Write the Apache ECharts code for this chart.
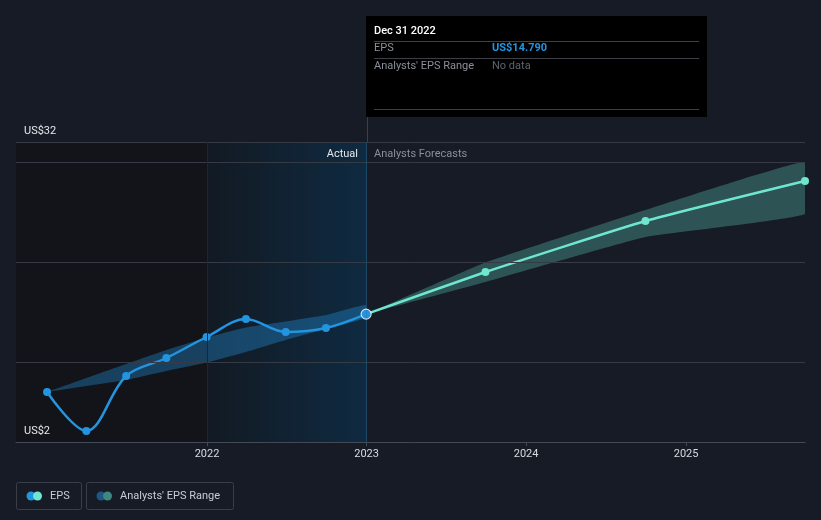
<!DOCTYPE html>
<html>
<head>
<meta charset="utf-8">
<script src="https://cdn.jsdelivr.net/npm/echarts@6/dist/echarts.min.js"></script>
<style>
  html, body { margin: 0; padding: 0; background: #161b26; }
  #chart { width: 821px; height: 520px; }
</style>
</head>
<body>
<div id="chart"></div>
<script>
// ---- data ----
const actualDates = ['2020-12-31','2021-03-31','2021-06-30','2021-09-30','2021-12-31','2022-03-31','2022-06-30','2022-09-30','2022-12-31'];
const actualEps   = [7.0, 3.1, 8.6, 10.4, 12.5, 14.3, 13.0, 13.4, 14.79];
const actualLow   = [7.0, 7.6, 8.2, 9.1, 9.95, 11.0, 12.2, 13.3, 14.45];
const actualHigh  = [7.0, 8.4, 9.8, 11.2, 12.45, 13.45, 14.05, 14.7, 15.7];
const forecastDates = ['2022-12-31','2023-09-30','2024-09-30','2025-09-30'];
const forecastEps   = [14.79, 19.0, 24.1, 28.1];
const forecastLow   = [14.79, 18.0, 22.5, 24.8];
const forecastHigh  = [14.79, 19.95, 25.2, 30.0];
const yearTicks = ['2022-01-01','2023-01-01','2024-01-01','2025-01-01'];
const gridValues = [10, 20, 30, 32];
const yLabelValues = [2, 32];
const axisMin = '2020-10-21';
const axisMax = '2025-09-30';
const nowDate = '2023-01-01';
const pastStart = '2022-01-01';

const t = d => new Date(d + 'T00:00:00Z').getTime();
const pairs = (ds, vs) => ds.map((d, i) => [t(d), vs[i]]);
const triples = (ds, lo, hi) => ds.map((d, i) => [t(d), lo[i], hi[i]]);

const chart = echarts.init(document.getElementById('chart'), null, { renderer: 'canvas' });
const FONT = 'Roboto, "Noto Sans", sans-serif';
const GRID_COL = '#353a45';

function bandRenderer(color, smooth) {
  return function (params, api) {
    if (params.dataIndexInside !== 0) return;
    const n = params.dataInsideLength;
    const upper = [], lower = [];
    for (let i = 0; i < n; i++) {
      upper.push(api.coord([api.value(0, i), api.value(2, i)]));
      lower.push(api.coord([api.value(0, i), api.value(1, i)]));
    }
    const pts = upper.concat(lower.reverse());
    return {
      type: 'polygon',
      shape: { points: pts, smooth: smooth },
      style: { fill: color },
      silent: true
    };
  };
}

const option = {
  backgroundColor: '#161b26',
  animation: false,
  grid: { left: 16, right: 16, top: 142, bottom: 78 },
  xAxis: {
    type: 'value',
    min: t(axisMin),
    max: t(axisMax),
    z: 10,
    axisLine: { show: true, lineStyle: { color: '#444955', width: 1 } },
    axisTick: { show: true, customValues: yearTicks.map(t), length: 4, lineStyle: { color: '#444955' } },
    axisLabel: {
      customValues: yearTicks.map(t),
      formatter: v => String(new Date(v).getUTCFullYear()),
      color: '#d8dbe0', fontFamily: FONT, fontSize: 11, margin: 7
    },
    splitLine: { show: false }
  },
  yAxis: {
    type: 'value',
    min: 2, max: 32,
    z: 10,
    axisLine: { show: false },
    axisTick: { show: false },
    splitLine: { show: false },
    axisLabel: {
      customValues: yLabelValues,
      showMinLabel: true, showMaxLabel: true,
      inside: true,
      margin: 8,
      verticalAlign: 'bottom',
      padding: [0, 0, 5, 0],
      formatter: v => 'US$' + v,
      color: '#e6e8eb', fontFamily: FONT, fontSize: 11
    }
  },
  series: [
    {
      name: 'bg', type: 'line', data: [], silent: true, z: 1,
      markArea: {
        silent: true,
        data: [
          [{ xAxis: t(axisMin), itemStyle: { color: '#121419' } }, { xAxis: t(pastStart) }],
          [{ xAxis: t(pastStart), itemStyle: { color: {
              type: 'linear', x: 0, y: 0, x2: 1, y2: 0,
              colorStops: [{ offset: 0, color: '#121a23' }, { offset: 1, color: '#0f2a41' }] } } },
           { xAxis: t(nowDate) }]
        ]
      },
      markLine: {
        silent: true, symbol: 'none', label: { show: false },
        data: [
          ...gridValues.map(v => ({ yAxis: v, lineStyle: { color: GRID_COL, width: 1, type: 'solid' } })),
          { xAxis: t(pastStart), lineStyle: { color: '#1b2733', width: 1, type: 'solid' } },
          { xAxis: t(nowDate), lineStyle: { color: '#1d4868', width: 1, type: 'solid' } }
        ]
      }
    },
    {
      name: "Analysts' EPS Range", type: 'custom', z: 3, clip: true,
      data: triples(actualDates, actualLow, actualHigh),
      encode: { x: 0, y: [1, 2] },
      renderItem: bandRenderer('rgba(35,148,223,0.36)', 0.15)
    },
    {
      name: 'Forecast EPS Range', type: 'custom', z: 3, clip: true,
      data: triples(forecastDates, forecastLow, forecastHigh),
      encode: { x: 0, y: [1, 2] },
      renderItem: bandRenderer('rgba(110,230,208,0.28)', 0.1)
    },
    {
      name: 'EPS', type: 'line', smooth: 0.35, symbol: 'circle', symbolSize: 8, z: 4,
      data: pairs(actualDates, actualEps),
      lineStyle: { color: '#2394df', width: 2.5 },
      itemStyle: { color: '#2394df' }
    },
    {
      name: 'EPS forecast', type: 'line', smooth: 0.15, symbol: 'circle', symbolSize: 8, z: 4,
      data: pairs(forecastDates, forecastEps).map((p, i) => i === 0 ? { value: p, symbol: 'none' } : p),
      lineStyle: { color: '#6ee6d0', width: 2.5 },
      itemStyle: { color: '#6ee6d0' }
    },
    {
      name: 'hover', type: 'scatter', symbolSize: 10, z: 5,
      data: [[t(actualDates[actualDates.length - 1]), actualEps[actualEps.length - 1]]],
      itemStyle: { color: '#2394df', borderColor: '#ffffff', borderWidth: 1.2 }
    }
  ]
};
chart.setOption(option);

// ---- overlay: tooltip box, section labels, legend ----
const nowX = Math.round(chart.convertToPixel({ xAxisIndex: 0 }, t(nowDate)));
const topY = chart.convertToPixel({ yAxisIndex: 0 }, 32);
const lastVal = actualEps[actualEps.length - 1];
const TT = { x: nowX - 1, y: 16, w: 341, h: 101 };

chart.setOption({
  graphic: [
    { type: 'line', shape: { x1: nowX + 0.5, y1: TT.y + TT.h, x2: nowX + 0.5, y2: topY }, style: { stroke: '#1d4868', lineWidth: 1 }, silent: true },
    { type: 'rect', shape: { x: TT.x, y: TT.y, width: TT.w, height: TT.h }, style: { fill: '#000000' }, z: 100 },
    { type: 'text', x: TT.x + 8, y: 31, style: { text: 'Dec 31 2022', fill: '#ffffff', font: '500 11px ' + FONT, verticalAlign: 'middle' }, z: 101 },
    { type: 'line', shape: { x1: TT.x + 8, y1: 41.5, x2: TT.x + TT.w - 8, y2: 41.5 }, style: { stroke: '#3c3f45', lineWidth: 1 }, z: 101 },
    { type: 'text', x: TT.x + 8, y: 48.5, style: { text: 'EPS', fill: '#8b8f96', font: '11px ' + FONT, verticalAlign: 'middle' }, z: 101 },
    { type: 'text', x: TT.x + 126, y: 48.5, style: { text: 'US$' + lastVal.toFixed(3), fill: '#2394df', font: 'bold 11px ' + FONT, verticalAlign: 'middle' }, z: 101 },
    { type: 'line', shape: { x1: TT.x + 8, y1: 58.5, x2: TT.x + TT.w - 8, y2: 58.5 }, style: { stroke: '#3c3f45', lineWidth: 1 }, z: 101 },
    { type: 'text', x: TT.x + 8, y: 66.5, style: { text: "Analysts' EPS Range", fill: '#8b8f96', font: '11px ' + FONT, verticalAlign: 'middle' }, z: 101 },
    { type: 'text', x: TT.x + 126, y: 66.5, style: { text: 'No data', fill: '#5f636a', font: '11px ' + FONT, verticalAlign: 'middle' }, z: 101 },
    { type: 'line', shape: { x1: TT.x + 8, y1: 109.5, x2: TT.x + TT.w - 8, y2: 109.5 }, style: { stroke: '#3c3f45', lineWidth: 1 }, z: 101 },

    { type: 'text', x: nowX - 9, y: 154, style: { text: 'Actual', fill: '#e6e8eb', font: '11px ' + FONT, align: 'right', verticalAlign: 'middle' }, z: 50 },
    { type: 'text', x: nowX + 7, y: 154, style: { text: 'Analysts Forecasts', fill: '#8b8f96', font: '11px ' + FONT, align: 'left', verticalAlign: 'middle' }, z: 50 },

    { type: 'rect', shape: { x: 16.5, y: 482.5, width: 65, height: 27, r: 2 }, style: { fill: 'transparent', stroke: '#3a3e48', lineWidth: 1 } },
    { type: 'circle', shape: { cx: 31, cy: 496, r: 4.5 }, style: { fill: '#2394df' } },
    { type: 'circle', shape: { cx: 37.5, cy: 496, r: 4.5 }, style: { fill: '#6ee6d0' } },
    { type: 'text', x: 50, y: 496, style: { text: 'EPS', fill: '#c9ccd2', font: '11px ' + FONT, verticalAlign: 'middle' } },

    { type: 'rect', shape: { x: 86.5, y: 482.5, width: 147, height: 27, r: 2 }, style: { fill: 'transparent', stroke: '#3a3e48', lineWidth: 1 } },
    { type: 'circle', shape: { cx: 101, cy: 496, r: 4.5 }, style: { fill: '#1f5784' } },
    { type: 'circle', shape: { cx: 107.5, cy: 496, r: 4.5 }, style: { fill: '#3f8880' } },
    { type: 'text', x: 120, y: 496, style: { text: "Analysts' EPS Range", fill: '#c9ccd2', font: '11px ' + FONT, verticalAlign: 'middle' } }
  ]
});
</script>
</body>
</html>
